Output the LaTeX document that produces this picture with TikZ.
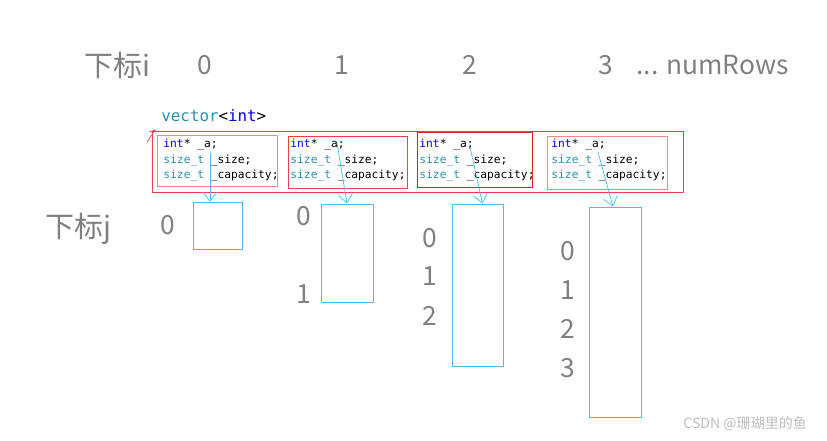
\documentclass[tikz,border=0pt]{standalone}
\usepackage{fontspec}
\setmainfont{Liberation Sans}
\newfontfamily\cjk{Noto Sans CJK SC}
\newfontfamily\code{DejaVu Sans Mono}
\usetikzlibrary{arrows.meta,calc}

\definecolor{idxgray}{HTML}{808080}
\definecolor{kwblue}{HTML}{0000FF}
\definecolor{typeteal}{HTML}{2B91AF}
\definecolor{boxred}{HTML}{E8414B}
\definecolor{darkred}{HTML}{D92330}
\definecolor{lightred}{HTML}{F08A8F}
\definecolor{ptrblue}{HTML}{4DBEEE}
\definecolor{markgray}{HTML}{BDBDBD}

\newcommand{\memberlines}{\textcolor{kwblue}{int}* \_a;\\
  \textcolor{typeteal}{size\_t} \_size;\\
  \textcolor{typeteal}{size\_t} \_capacity;}

\begin{document}
\begin{tikzpicture}[x=0.02cm,y=-0.02cm,line width=0.5pt,
  >={Straight Barb[length=5pt,width=8pt]},
  idx/.style={text=idxgray,inner sep=0pt,font=\cjk\fontsize{15}{18}\selectfont},
  title/.style={idx,font=\cjk\fontsize{16.5}{20}\selectfont},
  field/.style={draw=#1,inner sep=0pt},
  members/.style={anchor=north west,inner sep=0pt,align=left,
    font=\code\fontsize{6.4}{8.8}\selectfont},
  slot/.style={draw=ptrblue,inner sep=0pt,line width=0.45pt},
  ptr/.style={->,draw=ptrblue,line width=0.4pt}]
\useasboundingbox (0,0) rectangle (827,440);
% ---------- index i along the top ----------
\node[title] (ilabel) at (117,65) {下标i};
\foreach \i/\x in {0/205,1/342,2/470,3/606}{
  \node[idx] (i\i) at (\x,65) {\i};}
\node[idx,anchor=west] (rows) at (636,65) {... numRows};
% ---------- vector<int> with four members ----------
\node[anchor=base west,inner sep=0pt,font=\code\fontsize{9}{11}\selectfont]
  (vname) at (161,121) {\textcolor{typeteal}{vector}<\textcolor{kwblue}{int}>};
\node[field=boxred,minimum width=531*0.02cm,minimum height=61*0.02cm]
  (vec) at (417.5,161.5) {};
\draw[boxred,line width=0.4pt] (149,132) -- (155,130) -- (147,142);
\foreach \n/\xl/\yt/\xr/\yb/\c/\tx in {1/157/135/277/186/lightred/163,
    2/288/136/407/188/boxred/290, 3/417/132/532/187/darkred/419,
    4/547/136/667/189/lightred/551}{
  \node[field=\c,minimum width={(\xr-\xl)*0.02cm},minimum height={(\yb-\yt)*0.02cm}]
    (f\n) at ({(\xl+\xr)/2},{(\yt+\yb)/2}) {};
  \node[members] (m\n) at (\tx,139) {\memberlines};}
% ---------- the rows that _a points to ----------
\foreach \n/\xl/\yt/\xr/\yb in {1/193/202/242/249, 2/321/204/373/302,
    3/452/204/503/366, 4/589/207/641/417}{
  \node[slot,minimum width={(\xr-\xl)*0.02cm},minimum height={(\yb-\yt)*0.02cm}]
    (r\n) at ({(\xl+\xr)/2},{(\yt+\yb)/2}) {};}
% ---------- index j ----------
\node[title] (jlabel) at (78,229) {下标j};
\foreach \n/\j/\x/\y in {1/0/168/225, 2/0/304/216, 2/1/304/294,
    3/0/430/238, 3/1/430/276, 3/2/430/316,
    4/0/568/251, 4/1/568/290, 4/2/568/329, 4/3/568/368}{
  \node[idx] (j\n-\j) at (\x,\y) {\j};}
% ---------- pointers ----------
\coordinate (s1) at (210,153);
\coordinate (s2) at (337,143);
\coordinate (s3) at (470,147);
\coordinate (s4) at (598,152);
\draw[ptr] (s1) -- (s1 |- r1.north);
\draw[ptr] (s2) -- (r2.north);
\draw[ptr] (s3) -- ($(r3.north)+(5,0)$);
\draw[ptr] (s4) -- ($(r4.north)+(-2,0)$);
% ---------- watermark ----------
\node[anchor=west,inner sep=0pt,text=markgray,font=\cjk\fontsize{8}{10}\selectfont]
  (mark) at (683,424) {CSDN @珊瑚里的鱼};
\end{tikzpicture}
\end{document}
